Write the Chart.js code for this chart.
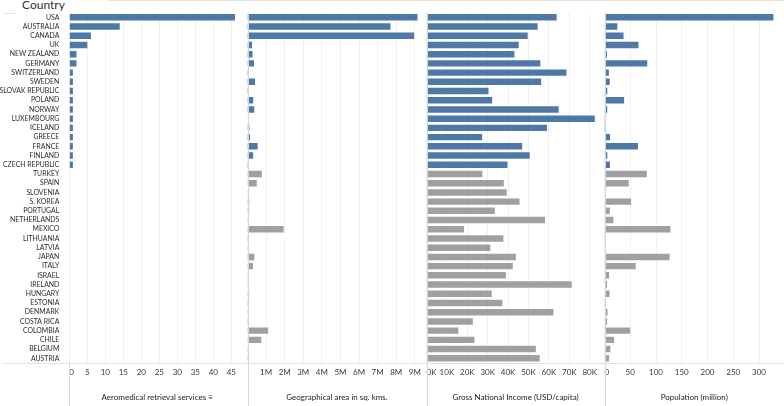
<!DOCTYPE html>
<html>
<head>
<meta charset="utf-8">
<script src="https://cdn.jsdelivr.net/npm/chart.js@4.4.1/dist/chart.umd.min.js"></script>
<style>
  body { margin: 0; background: #fff; width: 784px; height: 406px; overflow: hidden; position: relative; font-family: Lato, sans-serif; }
  canvas { position: absolute; top: 0; }
  .hdr { position: absolute; left: 22px; top: -3px; font-size: 12px; color: #333; }
  .rule { position: absolute; background: #e3e3e3; height: 1px; }
</style>
</head>
<body>
<div class="hdr">Country</div>
<div class="rule" style="left:108px;top:0;width:676px"></div>
<div class="rule" style="left:3px;top:13px;width:13px"></div>
<canvas id="aero" width="247" height="406" style="left:0"></canvas>
<canvas id="area" width="190" height="406" style="left:237px"></canvas>
<canvas id="gni" width="190" height="406" style="left:416px"></canvas>
<canvas id="pop" width="190" height="406" style="left:594px"></canvas>
<script>
const countries = ["USA", "AUSTRALIA", "CANADA", "UK", "NEW ZEALAND", "GERMANY", "SWITZERLAND", "SWEDEN",
  "SLOVAK REPUBLIC", "POLAND", "NORWAY", "LUXEMBOURG", "ICELAND", "GREECE", "FRANCE", "FINLAND",
  "CZECH REPUBLIC", "TURKEY", "SPAIN", "SLOVENIA", "S. KOREA", "PORTUGAL", "NETHERLANDS", "MEXICO",
  "LITHUANIA", "LATVIA", "JAPAN", "ITALY", "ISRAEL", "IRELAND", "HUNGARY", "ESTONIA", "DENMARK",
  "COSTA RICA", "COLOMBIA", "CHILE", "BELGIUM", "AUSTRIA"];

// aeromedical retrieval services (only the first 17 countries have any)
const aeromedical = [46, 14, 6, 5, 2, 2, 1, 1, 1, 1, 1, 1, 1, 1, 1, 1, 1,
  null, null, null, null, null, null, null, null, null, null, null, null, null, null, null, null, null, null, null, null, null];

// geographical area, sq. kms
const areaKm2 = [9147000, 7692000, 8965000, 242000, 268000, 349000, 40000, 407000, 48000, 306000, 365000,
  2600, 100000, 129000, 548000, 304000, 77000, 770000, 499000, 20000, 97000, 92000, 34000, 1944000,
  63000, 62000, 365000, 294000, 22000, 69000, 91000, 43000, 41000, 51000, 1110000, 744000, 30000, 83000];

// gross national income, USD per capita
const gniUsd = [63800, 54500, 49600, 45200, 43100, 55800, 68600, 56200, 30400, 32200, 64800, 82500,
  59100, 27300, 46900, 50600, 39700, 27400, 37900, 39300, 45600, 33500, 58100, 18400, 37700, 31300,
  43800, 42300, 38900, 71200, 32000, 37200, 62200, 22700, 15600, 23500, 53600, 55500];

// population, million
const popMillion = [328, 25, 37, 66, 4.8, 83, 8.5, 10.2, 5.4, 38, 5.3, 0.6, 0.35, 10.7, 65, 5.5, 10.6,
  82, 47, 2.1, 51.6, 10.3, 17.2, 128, 2.8, 1.9, 126.5, 60.5, 8.9, 4.9, 9.8, 1.3, 5.8, 5, 49.6, 18.7, 11.4, 8.8];

// tick values shown on each axis
const aeroTicks = [0, 5, 10, 15, 20, 25, 30, 35, 40, 45];
const areaTicks = [1000000, 2000000, 3000000, 4000000, 5000000, 6000000, 7000000, 8000000, 9000000];
const gniTicks = [0, 10000, 20000, 30000, 40000, 50000, 60000, 70000, 80000];
const popTicks = [0, 50, 100, 150, 200, 250, 300];

const BLUE = "#4e79a7";
const GREY = "#a0a0a0";
const barColors = aeromedical.map(v => (v ? BLUE : GREY));

const PLOT_TOP = 12.7;
const AXIS_H = 43.1;

Chart.defaults.font.family = "Lato, sans-serif";
Chart.defaults.color = "#333";

// light zero line running from the plot down through the axis area, plus the bottom rule
const paneLines = {
  id: "paneLines",
  afterDraw(chart, args, opts) {
    const { ctx, chartArea } = chart;
    ctx.save();
    ctx.strokeStyle = "#d6d6d6";
    ctx.lineWidth = 1;
    const x = Math.round(chartArea.left) + 0.5;
    ctx.beginPath();
    ctx.moveTo(x, opts.fullHeight ? chartArea.top : chartArea.bottom);
    ctx.lineTo(x, chart.height);
    ctx.stroke();
    const y = Math.round(chartArea.bottom) + 0.5;
    ctx.strokeStyle = "#e0e0e0";
    ctx.beginPath();
    ctx.moveTo(opts.ruleFrom, y);
    ctx.lineTo(chart.width, y);
    ctx.stroke();
    ctx.restore();
  }
};

function makePanel(id, values, o) {
  // with "inner" alignment the zero label sits just inside the pane; a blank
  // closing tick at the axis end keeps the real last label centred
  const tickValues = o.inner ? o.ticks.concat([o.max]) : o.ticks;
  return new Chart(document.getElementById(id), {
    type: "bar",
    data: {
      labels: countries,
      datasets: [{
        data: values,
        backgroundColor: barColors,
        barPercentage: 0.7,
        categoryPercentage: 1
      }]
    },
    options: {
      indexAxis: "y",
      responsive: false,
      animation: false,
      layout: { padding: { top: PLOT_TOP, left: o.padLeft, right: o.padRight, bottom: 0 } },
      plugins: {
        legend: { display: false },
        tooltip: { enabled: false },
        paneLines: { fullHeight: o.fullHeight, ruleFrom: o.ruleFrom }
      },
      scales: {
        y: {
          display: o.showLabels,
          grid: { display: false },
          border: { display: false },
          ticks: { autoSkip: false, padding: 2, color: "#2b2b2b", font: { size: 6.9 } },
          afterFit: s => { s.width = o.labelWidth || 0; s.paddingTop = 0; s.paddingBottom = 0; }
        },
        x: {
          min: 0,
          max: o.max,
          grid: {
            color: c => (c.tick && c.tick.value === o.max ? "rgba(0,0,0,0)" : "#f0f0f0"),
            drawTicks: false
          },
          border: { display: false },
          ticks: {
            padding: 5,
            minRotation: 0,
            maxRotation: 0,
            autoSkip: false,
            align: o.inner ? "inner" : "center",
            color: "#3a3a3a",
            font: { size: 8 },
            callback: v => (v === o.max ? "" : o.fmt(v))
          },
          title: {
            display: true,
            text: o.title,
            color: "#222",
            font: { size: 8 },
            padding: { top: 0, bottom: 3.5 }
          },
          afterBuildTicks: s => { s.ticks = tickValues.map(v => ({ value: v })); },
          afterFit: s => { s.height = AXIS_H; s.paddingLeft = 0; s.paddingRight = 0; }
        }
      }
    },
    plugins: [paneLines]
  });
}

makePanel("aero", aeromedical, {
  showLabels: true, labelWidth: 69.3, padLeft: 0, padRight: 2, max: 48.8, ticks: aeroTicks, inner: true,
  fmt: v => v, title: "Aeromedical retrieval services \u2261", fullHeight: false, ruleFrom: 3
});
makePanel("area", areaKm2, {
  showLabels: false, padLeft: 10.5, padRight: 0.5, max: 9630000, ticks: areaTicks, inner: false,
  fmt: v => (v / 1000000) + "M", title: "Geographical area in sq. kms.", fullHeight: true, ruleFrom: 0
});
makePanel("gni", gniUsd, {
  showLabels: false, padLeft: 10.5, padRight: 1.5, max: 87250, ticks: gniTicks, inner: true,
  fmt: v => (v / 1000) + "K", title: "Gross National Income (USD/capita)", fullHeight: true, ruleFrom: 0
});
makePanel("pop", popMillion, {
  showLabels: false, padLeft: 10.5, padRight: 0, max: 348.5, ticks: popTicks, inner: true,
  fmt: v => v, title: "Population (million)", fullHeight: true, ruleFrom: 0
});
</script>
</body>
</html>
